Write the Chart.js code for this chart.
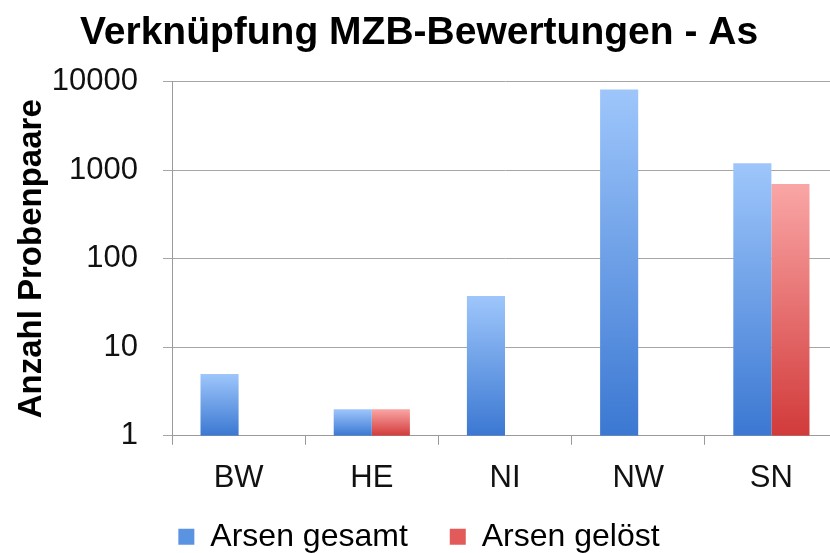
<!DOCTYPE html>
<html>
<head>
<meta charset="utf-8">
<script src="https://cdn.jsdelivr.net/npm/chart.js@4.4.1/dist/chart.umd.min.js"></script>
<style>
  html, body { margin: 0; padding: 0; background: #fff; overflow: hidden; }
  #wrap { width: 838px; height: 553px; position: relative; }
</style>
</head>
<body>
<div id="wrap"><canvas id="c"></canvas></div>
<script>
const categories = ['BW', 'HE', 'NI', 'NW', 'SN'];
const arsenGesamt = [5, 2, 38, 8200, 1200];
const arsenGeloest = [null, 2, null, null, 700];
const yTicks = [1, 10, 100, 1000, 10000];
const seriesNames = ['Arsen gesamt', 'Arsen gelöst'];

const FONT = "'Liberation Sans', Arial, sans-serif";

function grad(top, bottom, solid) {
  return (ctx) => {
    const chart = ctx.chart;
    const area = chart.chartArea;
    if (!area || ctx.raw == null || ctx.type !== 'data') return solid;
    const yPix = chart.scales.y.getPixelForValue(ctx.raw);
    const g = chart.ctx.createLinearGradient(0, yPix, 0, area.bottom);
    g.addColorStop(0, top);
    g.addColorStop(1, bottom);
    return g;
  };
}

// move the legend up closer to the x-axis labels (legend padding also sets the horizontal item gap)
const legendShift = {
  id: 'legendShift',
  afterLayout(chart) {
    const lg = chart.legend;
    if (!lg) return;
    lg.top = chart.chartArea.bottom + 43;
    lg.bottom = chart.height;
    lg.height = lg.bottom - lg.top;
  }
};

new Chart(document.getElementById('c'), {
  type: 'bar',
  data: {
    labels: categories,
    datasets: [
      {
        label: seriesNames[0],
        data: arsenGesamt,
        backgroundColor: grad('#9ec6fb', '#3b78d2', '#5b93e3'),
        borderWidth: 0,
        categoryPercentage: 0.572,
        barPercentage: 1.0
      },
      {
        label: seriesNames[1],
        data: arsenGeloest,
        backgroundColor: grad('#faa6a6', '#d23a3a', '#e35a5a'),
        borderWidth: 0,
        categoryPercentage: 0.572,
        barPercentage: 1.0
      }
    ]
  },
  plugins: [legendShift],
  options: {
    responsive: true,
    maintainAspectRatio: false,
    animation: false,
    layout: { padding: { top: 0, left: 0, right: 0, bottom: -3 } },
    plugins: {
      tooltip: { enabled: false },
      title: {
        display: true,
        text: 'Verknüpfung MZB-Bewertungen - As',
        color: '#000',
        font: { family: FONT, size: 39, weight: 'bold' },
        padding: { top: 10, bottom: 25 }
      },
      legend: {
        position: 'bottom',
        maxHeight: 44,
        labels: {
          color: '#111',
          font: { family: FONT, size: 32 },
          boxWidth: 16,
          boxHeight: 16,
          padding: 42,
          generateLabels: (chart) => seriesNames.map((n, i) => ({
            text: n,
            fillStyle: i === 0 ? '#5b93e3' : '#e35a5a',
            strokeStyle: 'transparent',
            lineWidth: 0,
            datasetIndex: i
          }))
        }
      }
    },
    scales: {
      x: {
        offset: true,
        grid: {
          offset: true,
          drawOnChartArea: false,
          drawTicks: true,
          tickLength: 9,
          color: '#9a9a9a'
        },
        border: { display: true, color: '#9a9a9a', width: 1 },
        ticks: {
          color: '#111',
          font: { family: FONT, size: 31 },
          padding: 15,
          maxRotation: 0
        }
      },
      y: {
        type: 'logarithmic',
        min: 1,
        max: 10000,
        afterBuildTicks: (axis) => { axis.ticks = yTicks.map(v => ({ value: v })); },
        afterFit: (axis) => { axis.width = 172; },
        grid: {
          color: '#a6a6a6',
          tickLength: 9,
          lineWidth: 1
        },
        border: { display: true, color: '#9a9a9a', width: 1 },
        ticks: {
          color: '#111',
          font: { family: FONT, size: 31 },
          padding: 25,
          callback: (v) => String(v)
        },
        title: {
          display: true,
          text: 'Anzahl Probenpaare',
          color: '#000',
          font: { family: FONT, size: 33, weight: 'bold' },
          padding: { top: 12, bottom: 0 }
        }
      }
    }
  }
});
</script>
</body>
</html>
